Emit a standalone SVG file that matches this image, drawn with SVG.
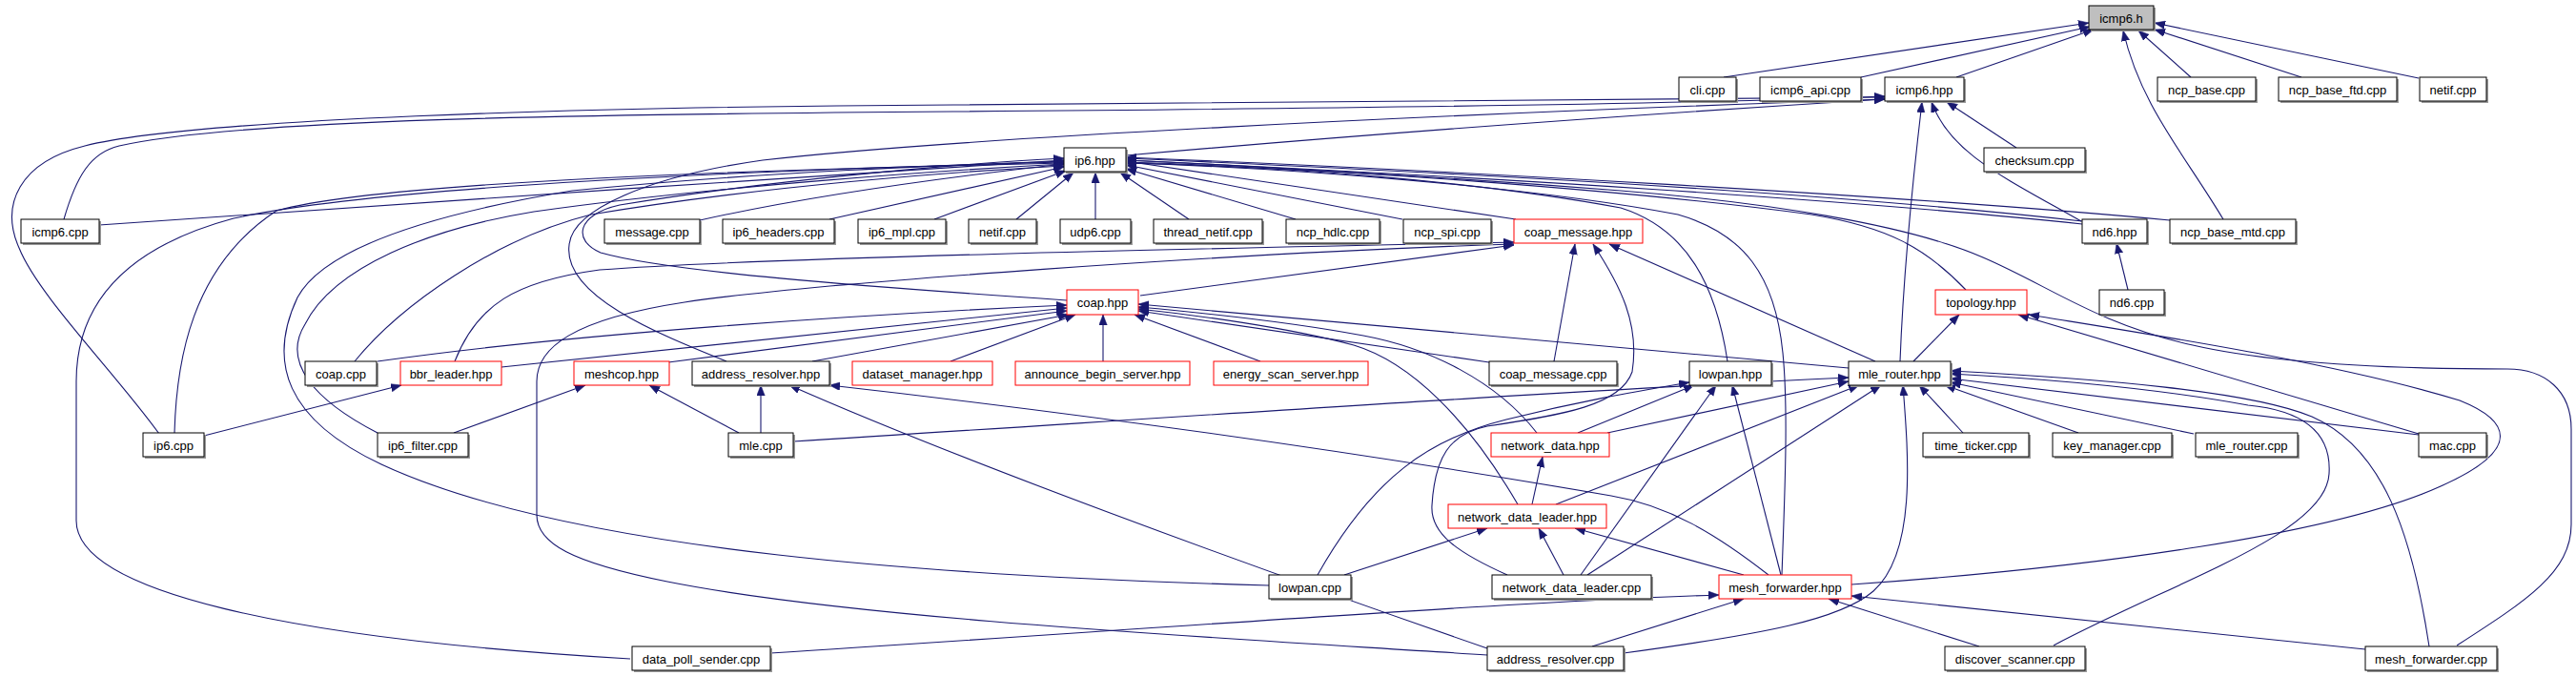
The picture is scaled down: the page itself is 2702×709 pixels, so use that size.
<svg xmlns="http://www.w3.org/2000/svg" width="2702" height="709" viewBox="0 0 2702 709">
<style>
.e{fill:none;stroke:#191970;stroke-width:1.1;marker-end:url(#ah)}
.b{fill:#fff;stroke:#000;stroke-width:1}
.r{fill:#fff;stroke:#ff0000;stroke-width:1}
.g{fill:#bfbfbf;stroke:#000;stroke-width:1}
.s{fill:#9a9a9a}
text{font-family:"Liberation Sans",Arial,sans-serif;font-size:13px;text-anchor:middle;fill:#000}
</style>
<defs>
<marker id="ah" markerUnits="userSpaceOnUse" markerWidth="12" markerHeight="9" refX="11" refY="4.25" orient="auto">
<path d="M0,0 L11,4.25 L0,8.5 z" fill="#191970" stroke="#191970" stroke-width="0.5"/>
</marker>
</defs>
<rect width="2702" height="709" fill="#fff"/>
<g id="edges">
<path class="e" d="M1808,81 L2191,24"/>
<path class="e" d="M1952,81 L2192,28"/>
<path class="e" d="M2052,81 L2196,31"/>
<path class="e" d="M2298,81 L2243,32"/>
<path class="e" d="M2414,81 L2260,31"/>
<path class="e" d="M2537,82 L2260,24"/>
<path class="e" d="M2332,230 C2290,160 2245,110 2227,32"/>
<path class="e" d="M1181,163 C1500,135 1800,115 1977,104"/>
<path class="e" d="M67,230 C80,185 95,160 125,153 C250,125 600,120 1000,117 C1500,113 1800,108 1977,101"/>
<path class="e" d="M167,455 C120,390 40,310 20,260 C0,215 20,170 89,153 C200,125 600,112 1000,110 C1500,108 1800,104 1977,102"/>
<path class="e" d="M2115,155 L2042,107"/>
<path class="e" d="M2183,232 C2100,185 2045,160 2026,107"/>
<path class="e" d="M1993,379 C1996,300 2005,200 2016,107"/>
<path class="e" d="M762,379 C690,350 590,310 597,257 C600,220 680,185 800,168 C1000,145 1500,120 1977,104"/>
<path class="e" d="M104,236 C400,215 800,188 1116,168"/>
<path class="e" d="M734,231 C850,205 1000,185 1116,172"/>
<path class="e" d="M870,230 L1116,175"/>
<path class="e" d="M980,230 L1118,179"/>
<path class="e" d="M1066,230 L1126,181"/>
<path class="e" d="M1149,230 L1149,181"/>
<path class="e" d="M1247,230 L1175,181"/>
<path class="e" d="M1359,230 L1181,177"/>
<path class="e" d="M1471,230 L1181,173"/>
<path class="e" d="M1590,230 L1181,169"/>
<path class="e" d="M2184,232 C1900,200 1500,180 1181,166"/>
<path class="e" d="M2184,235 C1950,210 1550,185 1181,168"/>
<path class="e" d="M2276,231 C2000,205 1500,178 1181,165"/>
<path class="e" d="M2062,304 C2020,260 1980,238 1900,225 C1700,198 1400,178 1181,168"/>
<path class="e" d="M2577,677 C2650,630 2697,600 2697,550 L2697,450 C2697,410 2670,387 2630,387 C2550,387 2400,385 2300,362 C2200,340 2150,300 2080,270 C2000,235 1850,212 1700,200 C1500,184 1300,174 1181,171"/>
<path class="e" d="M1812,379 C1800,300 1770,240 1700,218 C1550,190 1350,175 1181,170"/>
<path class="e" d="M1869,603 C1872,520 1876,430 1870,370 C1862,290 1830,245 1760,225 C1600,195 1350,176 1181,171"/>
<path class="e" d="M661,691 C300,670 80,620 80,546 L80,400 C80,320 130,260 245,229 C400,195 800,178 1116,170"/>
<path class="e" d="M183,454 C185,380 200,280 290,221 C400,190 800,178 1116,171"/>
<path class="e" d="M1331,614 C1000,605 600,580 400,487 C300,440 280,380 312,312 C340,260 450,225 600,200 C800,180 1000,173 1116,169"/>
<path class="e" d="M396,454 C330,420 295,380 320,340 C350,280 450,240 560,222 C750,195 1000,178 1116,172"/>
<path class="e" d="M372,379 C420,320 520,250 620,225 C800,195 1000,180 1116,174"/>
<path class="e" d="M1119,315 C900,300 700,285 630,265 C600,252 605,225 650,215 C800,190 1000,172 1116,166"/>
<path class="e" d="M1196,310 L1588,257"/>
<path class="e" d="M477,379 C500,320 540,295 629,283 C800,270 1300,260 1588,254"/>
<path class="e" d="M1560,687 C1300,670 900,650 700,610 C600,590 563,570 563,540 L563,400 C563,365 600,335 718,317 C850,297 1300,265 1588,256"/>
<path class="e" d="M1630,379 L1652,256"/>
<path class="e" d="M1581,603 C1530,580 1500,560 1502,530 C1505,480 1520,455 1560,447 C1640,435 1700,425 1712,390 C1720,340 1700,300 1671,256"/>
<path class="e" d="M1967,379 L1688,256"/>
<path class="e" d="M396,379 C600,350 900,330 1119,320"/>
<path class="e" d="M526,385 L1119,323"/>
<path class="e" d="M701,380 L1119,326"/>
<path class="e" d="M852,379 L1121,330"/>
<path class="e" d="M997,379 L1128,330"/>
<path class="e" d="M1157,379 L1157,330"/>
<path class="e" d="M1322,379 L1190,330"/>
<path class="e" d="M1562,380 L1194,326"/>
<path class="e" d="M1612,454 C1570,400 1500,365 1430,352 C1350,337 1250,327 1194,322"/>
<path class="e" d="M1592,529 C1540,440 1480,380 1420,362 C1350,343 1250,330 1194,324"/>
<path class="e" d="M1939,386 L1194,319"/>
<path class="e" d="M2007,379 L2055,330"/>
<path class="e" d="M2537,455 L2117,330"/>
<path class="e" d="M1942,613 C2200,595 2450,560 2560,510 C2650,470 2630,440 2580,420 C2450,380 2250,350 2128,330"/>
<path class="e" d="M2232,304 L2220,255"/>
<path class="e" d="M214,457 L421,404"/>
<path class="e" d="M476,454 L614,404"/>
<path class="e" d="M775,454 L681,404"/>
<path class="e" d="M798,454 L798,404"/>
<path class="e" d="M1560,680 C1300,590 1000,480 828,404"/>
<path class="e" d="M1855,603 C1800,560 1750,530 1690,520 C1400,470 1100,430 870,404"/>
<path class="e" d="M832,463 C1200,440 1600,412 1939,396"/>
<path class="e" d="M2059,454 L2013,404"/>
<path class="e" d="M2180,454 L2040,404"/>
<path class="e" d="M2301,455 L2046,401"/>
<path class="e" d="M2537,456 L2046,397"/>
<path class="e" d="M2154,677 C2280,610 2440,560 2443,497 C2446,450 2410,430 2358,425 C2250,405 2120,396 2046,392"/>
<path class="e" d="M2548,678 C2530,560 2500,470 2425,437 C2360,410 2200,397 2046,389"/>
<path class="e" d="M1703,685 C1850,665 1930,650 1965,620 C2010,580 2002,480 1996,404"/>
<path class="e" d="M1665,603 L1973,404"/>
<path class="e" d="M1632,529 L1950,404"/>
<path class="e" d="M1686,454 L1939,400"/>
<path class="e" d="M1382,603 C1440,500 1500,460 1580,440 C1660,420 1720,410 1772,401"/>
<path class="e" d="M1655,454 L1777,404"/>
<path class="e" d="M1658,603 L1800,404"/>
<path class="e" d="M1868,603 L1817,404"/>
<path class="e" d="M1607,529 L1618,479"/>
<path class="e" d="M1410,603 L1560,554"/>
<path class="e" d="M1640,603 L1614,554"/>
<path class="e" d="M1829,603 L1652,554"/>
<path class="e" d="M808,685 C1200,660 1600,630 1803,624"/>
<path class="e" d="M1670,678 L1829,628"/>
<path class="e" d="M2076,678 L1918,628"/>
<path class="e" d="M2481,681 L1942,625"/>
</g>
<g id="icmp6_h"><rect class="s" x="2193" y="8" width="68" height="25"/><rect class="g" x="2191" y="6" width="68" height="25"/><text x="2225" y="23.5">icmp6.h</text></g>
<g id="cli_cpp"><rect class="s" x="1763" y="83" width="60" height="25"/><rect class="b" x="1761" y="81" width="60" height="25"/><text x="1791" y="98.5">cli.cpp</text></g>
<g id="icmp6_api_cpp"><rect class="s" x="1848" y="83" width="106" height="25"/><rect class="b" x="1846" y="81" width="106" height="25"/><text x="1899" y="98.5">icmp6_api.cpp</text></g>
<g id="icmp6_hpp"><rect class="s" x="1979" y="83" width="83" height="25"/><rect class="b" x="1977" y="81" width="83" height="25"/><text x="2018.5" y="98.5">icmp6.hpp</text></g>
<g id="ncp_base_cpp"><rect class="s" x="2265" y="83" width="103" height="25"/><rect class="b" x="2263" y="81" width="103" height="25"/><text x="2314.5" y="98.5">ncp_base.cpp</text></g>
<g id="ncp_base_ftd_cpp"><rect class="s" x="2392" y="83" width="124" height="25"/><rect class="b" x="2390" y="81" width="124" height="25"/><text x="2452" y="98.5">ncp_base_ftd.cpp</text></g>
<g id="netif_cpp_1"><rect class="s" x="2540" y="83" width="70" height="25"/><rect class="b" x="2538" y="81" width="70" height="25"/><text x="2573" y="98.5">netif.cpp</text></g>
<g id="ip6_hpp"><rect class="s" x="1118" y="157" width="65" height="25"/><rect class="b" x="1116" y="155" width="65" height="25"/><text x="1148.5" y="172.5">ip6.hpp</text></g>
<g id="checksum_cpp"><rect class="s" x="2083" y="157" width="106" height="25"/><rect class="b" x="2081" y="155" width="106" height="25"/><text x="2134" y="172.5">checksum.cpp</text></g>
<g id="icmp6_cpp"><rect class="s" x="24" y="232" width="82" height="25"/><rect class="b" x="22" y="230" width="82" height="25"/><text x="63" y="247.5">icmp6.cpp</text></g>
<g id="message_cpp"><rect class="s" x="636" y="232" width="100" height="25"/><rect class="b" x="634" y="230" width="100" height="25"/><text x="684" y="247.5">message.cpp</text></g>
<g id="ip6_headers_cpp"><rect class="s" x="760" y="232" width="117" height="25"/><rect class="b" x="758" y="230" width="117" height="25"/><text x="816.5" y="247.5">ip6_headers.cpp</text></g>
<g id="ip6_mpl_cpp"><rect class="s" x="902" y="232" width="92" height="25"/><rect class="b" x="900" y="230" width="92" height="25"/><text x="946" y="247.5">ip6_mpl.cpp</text></g>
<g id="netif_cpp_2"><rect class="s" x="1018" y="232" width="71" height="25"/><rect class="b" x="1016" y="230" width="71" height="25"/><text x="1051.5" y="247.5">netif.cpp</text></g>
<g id="udp6_cpp"><rect class="s" x="1114" y="232" width="74" height="25"/><rect class="b" x="1112" y="230" width="74" height="25"/><text x="1149" y="247.5">udp6.cpp</text></g>
<g id="thread_netif_cpp"><rect class="s" x="1212" y="232" width="114" height="25"/><rect class="b" x="1210" y="230" width="114" height="25"/><text x="1267" y="247.5">thread_netif.cpp</text></g>
<g id="ncp_hdlc_cpp"><rect class="s" x="1351" y="232" width="98" height="25"/><rect class="b" x="1349" y="230" width="98" height="25"/><text x="1398" y="247.5">ncp_hdlc.cpp</text></g>
<g id="ncp_spi_cpp"><rect class="s" x="1474" y="232" width="92" height="25"/><rect class="b" x="1472" y="230" width="92" height="25"/><text x="1518" y="247.5">ncp_spi.cpp</text></g>
<g id="coap_message_hpp"><rect class="r" x="1588" y="230" width="135" height="25"/><text x="1655.5" y="247.5">coap_message.hpp</text></g>
<g id="nd6_hpp"><rect class="s" x="2186" y="232" width="68" height="25"/><rect class="b" x="2184" y="230" width="68" height="25"/><text x="2218" y="247.5">nd6.hpp</text></g>
<g id="ncp_base_mtd_cpp"><rect class="s" x="2278" y="232" width="132" height="25"/><rect class="b" x="2276" y="230" width="132" height="25"/><text x="2342" y="247.5">ncp_base_mtd.cpp</text></g>
<g id="coap_hpp"><rect class="r" x="1119" y="304" width="75" height="26"/><text x="1156.5" y="322">coap.hpp</text></g>
<g id="topology_hpp"><rect class="r" x="2030" y="304" width="96" height="26"/><text x="2078" y="322">topology.hpp</text></g>
<g id="nd6_cpp"><rect class="s" x="2204" y="306" width="68" height="26"/><rect class="b" x="2202" y="304" width="68" height="26"/><text x="2236" y="322">nd6.cpp</text></g>
<g id="coap_cpp"><rect class="s" x="322" y="381" width="75" height="25"/><rect class="b" x="320" y="379" width="75" height="25"/><text x="357.5" y="396.5">coap.cpp</text></g>
<g id="bbr_leader_hpp"><rect class="r" x="420" y="379" width="106" height="25"/><text x="473" y="396.5">bbr_leader.hpp</text></g>
<g id="meshcop_hpp"><rect class="r" x="602" y="379" width="100" height="25"/><text x="652" y="396.5">meshcop.hpp</text></g>
<g id="address_resolver_hpp"><rect class="s" x="728" y="381" width="144" height="25"/><rect class="b" x="726" y="379" width="144" height="25"/><text x="798" y="396.5">address_resolver.hpp</text></g>
<g id="dataset_manager_hpp"><rect class="r" x="894" y="379" width="147" height="25"/><text x="967.5" y="396.5">dataset_manager.hpp</text></g>
<g id="announce_begin_server_hpp"><rect class="r" x="1065" y="379" width="183" height="25"/><text x="1156.5" y="396.5">announce_begin_server.hpp</text></g>
<g id="energy_scan_server_hpp"><rect class="r" x="1273" y="379" width="162" height="25"/><text x="1354" y="396.5">energy_scan_server.hpp</text></g>
<g id="coap_message_cpp"><rect class="s" x="1564" y="381" width="134" height="25"/><rect class="b" x="1562" y="379" width="134" height="25"/><text x="1629" y="396.5">coap_message.cpp</text></g>
<g id="lowpan_hpp"><rect class="s" x="1774" y="381" width="86" height="25"/><rect class="b" x="1772" y="379" width="86" height="25"/><text x="1815" y="396.5">lowpan.hpp</text></g>
<g id="mle_router_hpp"><rect class="s" x="1941" y="381" width="107" height="25"/><rect class="b" x="1939" y="379" width="107" height="25"/><text x="1992.5" y="396.5">mle_router.hpp</text></g>
<g id="ip6_cpp"><rect class="s" x="152" y="456" width="64" height="25"/><rect class="b" x="150" y="454" width="64" height="25"/><text x="182" y="471.5">ip6.cpp</text></g>
<g id="ip6_filter_cpp"><rect class="s" x="398" y="456" width="95" height="25"/><rect class="b" x="396" y="454" width="95" height="25"/><text x="443.5" y="471.5">ip6_filter.cpp</text></g>
<g id="mle_cpp"><rect class="s" x="766" y="456" width="68" height="25"/><rect class="b" x="764" y="454" width="68" height="25"/><text x="798" y="471.5">mle.cpp</text></g>
<g id="network_data_hpp"><rect class="r" x="1564" y="454" width="124" height="25"/><text x="1626" y="471.5">network_data.hpp</text></g>
<g id="time_ticker_cpp"><rect class="s" x="2019" y="456" width="111" height="25"/><rect class="b" x="2017" y="454" width="111" height="25"/><text x="2072.5" y="471.5">time_ticker.cpp</text></g>
<g id="key_manager_cpp"><rect class="s" x="2155" y="456" width="125" height="25"/><rect class="b" x="2153" y="454" width="125" height="25"/><text x="2215.5" y="471.5">key_manager.cpp</text></g>
<g id="mle_router_cpp"><rect class="s" x="2305" y="456" width="107" height="25"/><rect class="b" x="2303" y="454" width="107" height="25"/><text x="2356.5" y="471.5">mle_router.cpp</text></g>
<g id="mac_cpp"><rect class="s" x="2539" y="456" width="71" height="25"/><rect class="b" x="2537" y="454" width="71" height="25"/><text x="2572.5" y="471.5">mac.cpp</text></g>
<g id="network_data_leader_hpp"><rect class="r" x="1519" y="529" width="166" height="25"/><text x="1602" y="546.5">network_data_leader.hpp</text></g>
<g id="lowpan_cpp"><rect class="s" x="1333" y="605" width="86" height="25"/><rect class="b" x="1331" y="603" width="86" height="25"/><text x="1374" y="620.5">lowpan.cpp</text></g>
<g id="network_data_leader_cpp"><rect class="s" x="1567" y="605" width="167" height="25"/><rect class="b" x="1565" y="603" width="167" height="25"/><text x="1648.5" y="620.5">network_data_leader.cpp</text></g>
<g id="mesh_forwarder_hpp"><rect class="r" x="1803" y="603" width="139" height="25"/><text x="1872.5" y="620.5">mesh_forwarder.hpp</text></g>
<g id="data_poll_sender_cpp"><rect class="s" x="665" y="680" width="145" height="25"/><rect class="b" x="663" y="678" width="145" height="25"/><text x="735.5" y="695.5">data_poll_sender.cpp</text></g>
<g id="address_resolver_cpp"><rect class="s" x="1562" y="680" width="143" height="25"/><rect class="b" x="1560" y="678" width="143" height="25"/><text x="1631.5" y="695.5">address_resolver.cpp</text></g>
<g id="discover_scanner_cpp"><rect class="s" x="2042" y="680" width="147" height="25"/><rect class="b" x="2040" y="678" width="147" height="25"/><text x="2113.5" y="695.5">discover_scanner.cpp</text></g>
<g id="mesh_forwarder_cpp"><rect class="s" x="2483" y="680" width="138" height="25"/><rect class="b" x="2481" y="678" width="138" height="25"/><text x="2550" y="695.5">mesh_forwarder.cpp</text></g>
</svg>
